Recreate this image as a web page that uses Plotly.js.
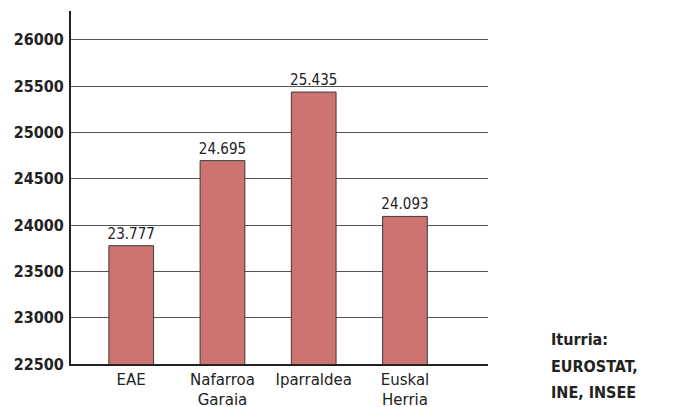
<!DOCTYPE html>
<html>
<head>
<meta charset="utf-8">
<script src="https://cdn.plot.ly/plotly-3.0.1.min.js"></script>
<style>html,body{margin:0;padding:0;background:#fff;}#chart{width:690px;height:407px;}</style>
</head>
<body>
<div id="chart"></div>
<script>
const categories = ["EAE", "Nafarroa<br>Garaia", "Iparraldea", "Euskal<br>Herria"];
const values = [23777, 24695, 25435, 24093];
const yTicks = [22500, 23000, 23500, 24000, 24500, 25000, 25500, 26000];
const sourceLines = ["Iturria:", "EUROSTAT,", "INE, INSEE"];

const trace = {
  type: "bar",
  x: [0, 1, 2, 3],
  y: values,
  width: 0.49,
  marker: {color: "#CD7470", line: {color: "#3a3a3a", width: 1}},
  texttemplate: "%{y:,.0f}",
  textposition: "outside",
  constraintext: "none",
  cliponaxis: false,
  textfont: {family: "DejaVu Sans Condensed", size: 15, color: "#222"},
  hoverinfo: "none"
};

const annotations = sourceLines.map((t, i) => ({
  xref: "paper", yref: "paper",
  x: 1.146, y: 0.068 - i * 0.0737,
  xanchor: "left", yanchor: "middle",
  text: t, showarrow: false, align: "left",
  font: {family: "DejaVu Sans Condensed", size: 16, color: "#222", weight: "bold"}
}));

const layout = {
  width: 690, height: 407,
  margin: {l: 71, r: 202, t: 11, b: 43},
  paper_bgcolor: "#fff", plot_bgcolor: "#fff",
  separators: ",.",
  showlegend: false,
  xaxis: {
    range: [-0.66, 3.91],
    tickmode: "array", tickvals: [0, 1, 2, 3], ticktext: categories,
    showgrid: false, zeroline: false,
    showline: true, linecolor: "#222", linewidth: 2,
    ticks: "", ticklen: 0, ticklabelstandoff: 1,
    tickfont: {family: "DejaVu Sans", size: 15, color: "#222"}
  },
  yaxis: {
    range: [22500, 26310],
    tickmode: "array", tickvals: yTicks, tickformat: "d",
    showgrid: true, gridcolor: "#555", gridwidth: 1,
    zeroline: false,
    showline: true, linecolor: "#222", linewidth: 2,
    ticks: "", ticklabelstandoff: 2,
    tickfont: {family: "DejaVu Sans Condensed", size: 16, color: "#222", weight: "bold"}
  },
  annotations: annotations
};

Plotly.newPlot("chart", [trace], layout, {displayModeBar: false, staticPlot: true});
</script>
</body>
</html>
